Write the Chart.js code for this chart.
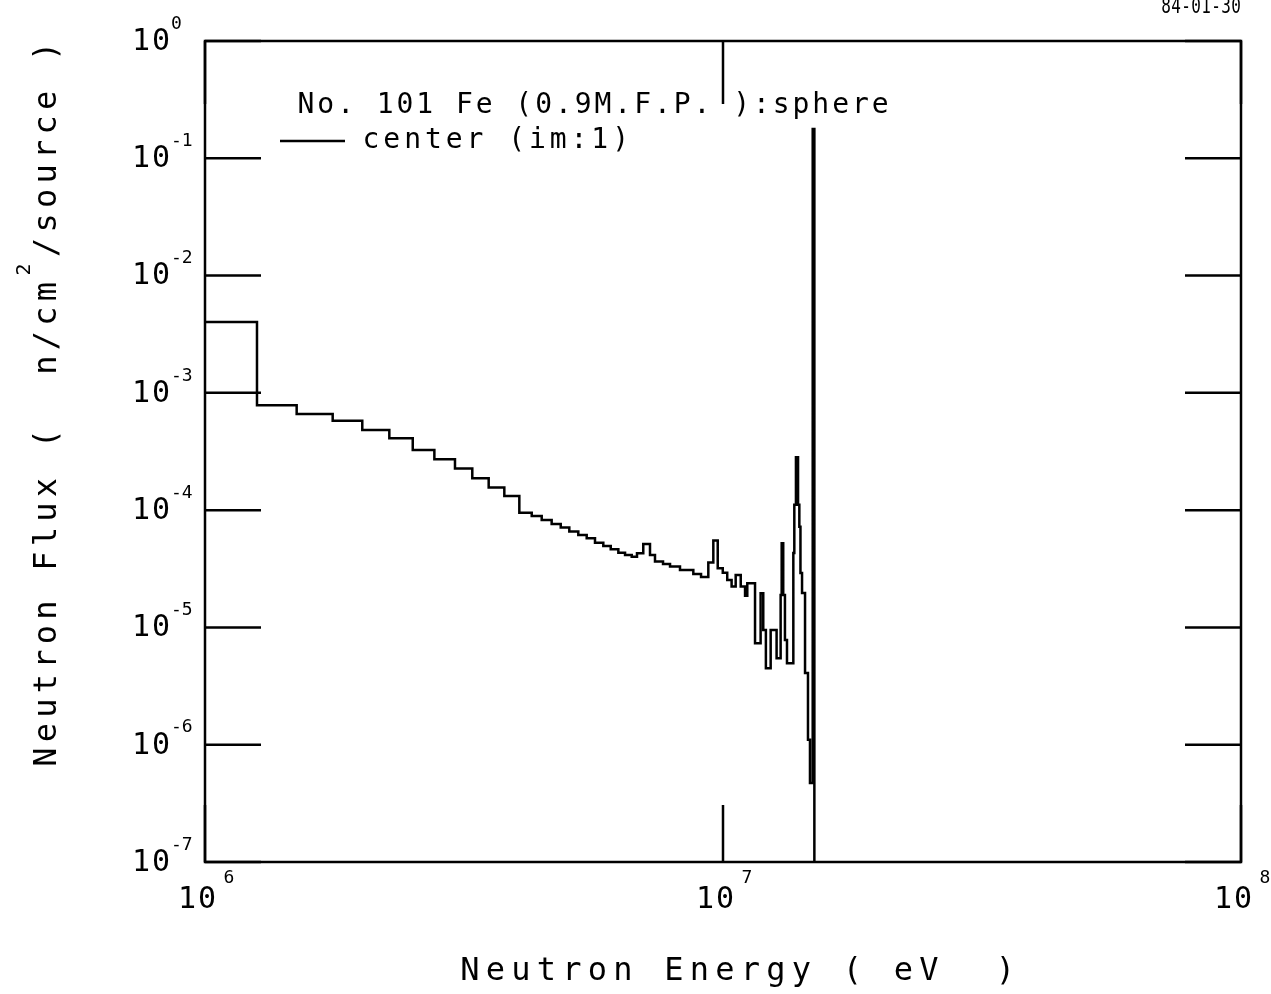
<!DOCTYPE html>
<html>
<head>
<meta charset="utf-8">
<title>Neutron Flux - Fe sphere</title>
<script src="https://cdn.jsdelivr.net/npm/chart.js@4"></script>
<style>
  html, body { margin: 0; padding: 0; background: #fff; }
  canvas { display: block; }
</style>
</head>
<body>
<canvas id="c" width="1271" height="994"></canvas>
<script>
// Lower energy edge of each group (eV)
const binEdges = [
  1.00e6, 1.26e6, 1.503e6, 1.764e6, 2.012e6, 2.269e6, 2.518e6, 2.772e6,
  3.038e6, 3.281e6, 3.529e6, 3.783e6, 4.044e6, 4.273e6, 4.467e6, 4.669e6,
  4.861e6, 5.05e6, 5.256e6, 5.456e6, 5.661e6, 5.874e6, 6.071e6, 6.28e6,
  6.47e6, 6.665e6, 6.823e6, 7.016e6, 7.229e6, 7.391e6, 7.66e6, 7.902e6,
  8.26e6, 8.764e6, 9.07e6, 9.368e6, 9.579e6, 9.768e6, 9.99e6, 1.019e7,
  1.039e7, 1.058e7, 1.082e7, 1.103e7, 1.114e7, 1.153e7, 1.182e7, 1.196e7,
  1.21e7, 1.236e7, 1.269e7, 1.292e7, 1.298e7, 1.307e7, 1.317e7, 1.329e7,
  1.367e7, 1.373e7, 1.383e7, 1.396e7, 1.404e7, 1.411e7, 1.421e7, 1.44e7,
  1.459e7, 1.472e7, 1.49e7
];
// Upper edge of the last group (eV)
const topEdge = 1.501e7;

// Group flux, n/cm^2/source (center, im:1)
const fluxCenter = [
  4.02e-3, 7.84e-4, 6.61e-4, 5.79e-4, 4.83e-4, 4.10e-4, 3.26e-4, 2.72e-4,
  2.27e-4, 1.87e-4, 1.56e-4, 1.32e-4, 9.52e-5, 8.93e-5, 8.25e-5, 7.63e-5,
  7.10e-5, 6.56e-5, 6.14e-5, 5.76e-5, 5.28e-5, 4.95e-5, 4.64e-5, 4.34e-5,
  4.15e-5, 4.01e-5, 4.29e-5, 5.15e-5, 4.15e-5, 3.64e-5, 3.48e-5, 3.30e-5,
  3.09e-5, 2.86e-5, 2.69e-5, 3.57e-5, 5.50e-5, 3.20e-5, 2.93e-5, 2.54e-5,
  2.23e-5, 2.80e-5, 2.23e-5, 1.86e-5, 2.38e-5, 7.33e-6, 1.96e-5, 9.52e-6,
  4.49e-6, 9.52e-6, 5.46e-6, 1.89e-5, 5.22e-5, 1.89e-5, 7.82e-6, 4.95e-6,
  4.32e-5, 1.11e-4, 2.82e-4, 1.11e-4, 7.23e-5, 2.91e-5, 1.97e-5, 4.09e-6,
  1.10e-6, 4.72e-7, 1.78e-1
];
// Flux used to drop the histogram below the bottom of the plot
const floorFlux = 1e-9;

const xDecades = [1e6, 1e7, 1e8];
const xExponents = ['6', '7', '8'];
const yDecades = [1, 1e-1, 1e-2, 1e-3, 1e-4, 1e-5, 1e-6, 1e-7];
const yExponents = ['0', '-1', '-2', '-3', '-4', '-5', '-6', '-7'];

const titleLine = 'No. 101 Fe (0.9M.F.P. ):sphere';
const seriesLabel = 'center (im:1)';
const xTitle = 'Neutron Energy ( eV  )';
const yTitleParts = ['Neutron Flux (  n/cm', '2', '/source )'];
const dateStamp = '84-01-30';

// Histogram points: each group starts at its lower edge, the stepped line holds the value to the next edge
const histPoints = binEdges.map((e, i) => ({ x: e, y: fluxCenter[i] }));
histPoints.push({ x: topEdge, y: floorFlux });

const FONT = '"DejaVu Sans Mono", "Liberation Mono", monospace';

function drawMono(ctx, str, x0, y, pitch) {
  for (let i = 0; i < str.length; i++) {
    ctx.fillText(str[i], x0 + i * pitch, y);
  }
}

const plotterFrame = {
  id: 'plotterFrame',
  afterDatasetsDraw(chart) {
    const ctx = chart.ctx;
    const a = chart.chartArea;
    const xs = chart.scales.x, ys = chart.scales.y;
    ctx.save();
    ctx.strokeStyle = '#000';
    ctx.fillStyle = '#000';
    ctx.lineWidth = 2.5;
    ctx.lineCap = 'butt';

    // frame
    ctx.strokeRect(a.left, a.top, a.right - a.left, a.bottom - a.top);

    // inner major ticks on y (both sides)
    ctx.beginPath();
    yDecades.forEach(v => {
      const py = ys.getPixelForValue(v);
      ctx.moveTo(a.left, py); ctx.lineTo(a.left + 56, py);
      ctx.moveTo(a.right, py); ctx.lineTo(a.right - 56, py);
    });
    // inner major ticks on x (top and bottom)
    xDecades.forEach(v => {
      const px = xs.getPixelForValue(v);
      ctx.moveTo(px, a.top); ctx.lineTo(px, a.top + 63);
      ctx.moveTo(px, a.bottom); ctx.lineTo(px, a.bottom - 57);
    });
    ctx.stroke();

    // y tick labels
    ctx.textAlign = 'center';
    ctx.textBaseline = 'middle';
    yDecades.forEach((v, i) => {
      const py = ys.getPixelForValue(v);
      ctx.font = '30px ' + FONT;
      drawMono(ctx, '10', 141, py + 1, 20);
      ctx.font = '18px ' + FONT;
      ctx.textAlign = 'left';
      ctx.fillText(yExponents[i], 171, py - 17);
      ctx.textAlign = 'center';
    });

    // x tick labels
    xDecades.forEach((v, i) => {
      const px = xs.getPixelForValue(v);
      ctx.font = '30px ' + FONT;
      drawMono(ctx, '10', px - 18, 900, 20);
      ctx.font = '18px ' + FONT;
      ctx.fillText(xExponents[i], px + 24, 878);
    });

    // axis titles
    ctx.font = '32px ' + FONT;
    ctx.textBaseline = 'alphabetic';
    drawMono(ctx, xTitle, 470, 980, 25.5);

    ctx.save();
    ctx.translate(56, 757);
    ctx.rotate(-Math.PI / 2);
    ctx.font = '32px ' + FONT;
    const pitch = 24.5;
    drawMono(ctx, yTitleParts[0], 0, 0, pitch);
    let pos = (yTitleParts[0].length - 1) * pitch;
    ctx.font = '20px ' + FONT;
    ctx.fillText(yTitleParts[1], pos + 22, -26);
    ctx.font = '32px ' + FONT;
    drawMono(ctx, yTitleParts[2], pos + pitch * 1.8, 0, pitch);
    ctx.restore();

    // caption and series key
    ctx.font = '28px ' + FONT;
    drawMono(ctx, titleLine, 306, 113, 19.8);
    drawMono(ctx, seriesLabel, 371, 148, 20.8);
    ctx.lineWidth = 2.5;
    ctx.beginPath();
    ctx.moveTo(280, 141); ctx.lineTo(345, 141);
    ctx.stroke();

    // date stamp (runs off the top edge of the sheet), tall narrow plotter glyphs
    ctx.save();
    ctx.translate(0, 13);
    ctx.scale(1, 1.35);
    ctx.font = '16px ' + FONT;
    drawMono(ctx, dateStamp, 1166, 0, 10);
    ctx.restore();
    ctx.restore();
  }
};

new Chart(document.getElementById('c'), {
  type: 'line',
  data: {
    datasets: [{
      label: seriesLabel,
      data: histPoints,
      stepped: true,
      borderColor: '#000',
      borderWidth: 2.5,
      pointRadius: 0,
      fill: false,
      tension: 0
    }]
  },
  options: {
    responsive: false,
    animation: false,
    devicePixelRatio: 1,
    layout: { padding: { left: 205, top: 41, right: 30, bottom: 132 } },
    scales: {
      x: { type: 'logarithmic', min: 1e6, max: 1e8, display: false },
      y: { type: 'logarithmic', min: 1e-7, max: 1, display: false }
    },
    plugins: { legend: { display: false }, tooltip: { enabled: false } }
  },
  plugins: [plotterFrame]
});
</script>
</body>
</html>
